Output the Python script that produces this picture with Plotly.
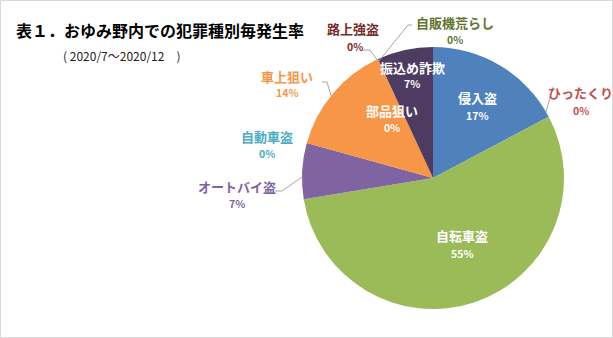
import plotly.graph_objects as go

W, H = 613, 338

# Data (counts, clockwise from 12 o'clock)
categories = ["侵入盗", "ひったくり", "自転車盗", "オートバイ盗", "自動車盗",
              "車上狙い", "部品狙い", "振込め詐欺", "路上強盗", "自販機荒らし"]
counts = [5, 0, 16, 2, 0, 4, 0, 2, 0, 0]
colors = ["#4F81BD", "#C0504D", "#9BBB59", "#8064A2", "#4BACC6",
          "#F79646", "#2C4D75", "#4D3B62", "#772C2A", "#5F7530"]

title_text = "表１．おゆみ野内での犯罪種別毎発生率"
subtitle_text = "( 2020/7～2020/12　)"

total = sum(counts)
pcts = [round(100 * c / total) for c in counts]

def px(x):
    return x / W

def py(y):
    return 1 - y / H

# pie geometry (pixels)
cx, cy, r = 433, 178, 131

fig = go.Figure()
fig.add_trace(go.Pie(
    labels=categories, values=counts, sort=False, direction="clockwise",
    rotation=0, marker=dict(colors=colors, line=dict(width=0)),
    textinfo="none", hoverinfo="label+percent", showlegend=False,
    domain=dict(x=[px(cx - r), px(cx + r)], y=[py(cy + r), py(cy - r)]),
))

FONT = "Noto Sans CJK JP, Meiryo, sans-serif"

# label placement (pixel centre of name, pixel centre of percent, colour)
label_pos = {
    "侵入盗": ((477, 97), (477, 115), "white"),
    "ひったくり": ((580, 92), (581, 110), "#C0504D"),
    "自転車盗": ((462, 235), (462, 253), "white"),
    "オートバイ盗": ((237, 186), (237, 203), "#8064A2"),
    "自動車盗": ((267, 136), (267, 153), "#4BACC6"),
    "車上狙い": ((287, 76), (287, 93), "#F79646"),
    "部品狙い": ((392, 110), (392, 127), "white"),
    "振込め詐欺": ((412, 67), (412, 84), "white"),
    "路上強盗": ((353, 29), (355, 46), "#772C2A"),
    "自販機荒らし": ((455, 22), (455, 39), "#5F7530"),
}

annotations = []
for cat, p in zip(categories, pcts):
    (nx, ny), (qx, qy), col = label_pos[cat]
    annotations.append(dict(x=px(nx), y=py(ny), xref="paper", yref="paper",
                            text=f"<b>{cat}</b>", showarrow=False,
                            font=dict(family=FONT, size=13, color=col),
                            xanchor="center", yanchor="middle"))
    annotations.append(dict(x=px(qx), y=py(qy), xref="paper", yref="paper",
                            text=f"<b>{p}%</b>", showarrow=False,
                            font=dict(family=FONT, size=10.5, color=col),
                            xanchor="center", yanchor="middle"))

annotations.append(dict(x=px(14), y=py(30), xref="paper", yref="paper",
                        text=f"<b>{title_text}</b>", showarrow=False,
                        font=dict(family=FONT, size=16, color="black"),
                        xanchor="left", yanchor="middle"))
annotations.append(dict(x=px(61), y=py(56), xref="paper", yref="paper",
                        text=subtitle_text, showarrow=False,
                        font=dict(family=FONT, size=12, color="#222"),
                        xanchor="left", yanchor="middle"))

leaders = [
    [(363, 50), (370, 50), (378, 61)],
    [(412, 25), (408, 25), (379, 61)],
    [(553, 87), (546, 112)],
    [(322, 82), (327, 82), (331, 96)],
    [(275, 191), (282, 191), (302, 177)],
]
shapes = []
for pts in leaders:
    path = "M " + " L ".join(f"{px(x)},{py(y)}" for x, y in pts)
    shapes.append(dict(type="path", xref="paper", yref="paper", path=path,
                       line=dict(color="#A6A6A6", width=1)))
shapes.append(dict(type="rect", xref="paper", yref="paper",
                   x0=px(0.5), x1=px(W - 0.5), y0=py(H - 0.5), y1=py(0.5),
                   line=dict(color="#D9D9D9", width=1)))

fig.update_layout(width=W, height=H, margin=dict(l=0, r=0, t=0, b=0),
                  paper_bgcolor="white", plot_bgcolor="white",
                  annotations=annotations, shapes=shapes,
                  font=dict(family=FONT))

fig.write_html("out.html", config={"displayModeBar": False})
